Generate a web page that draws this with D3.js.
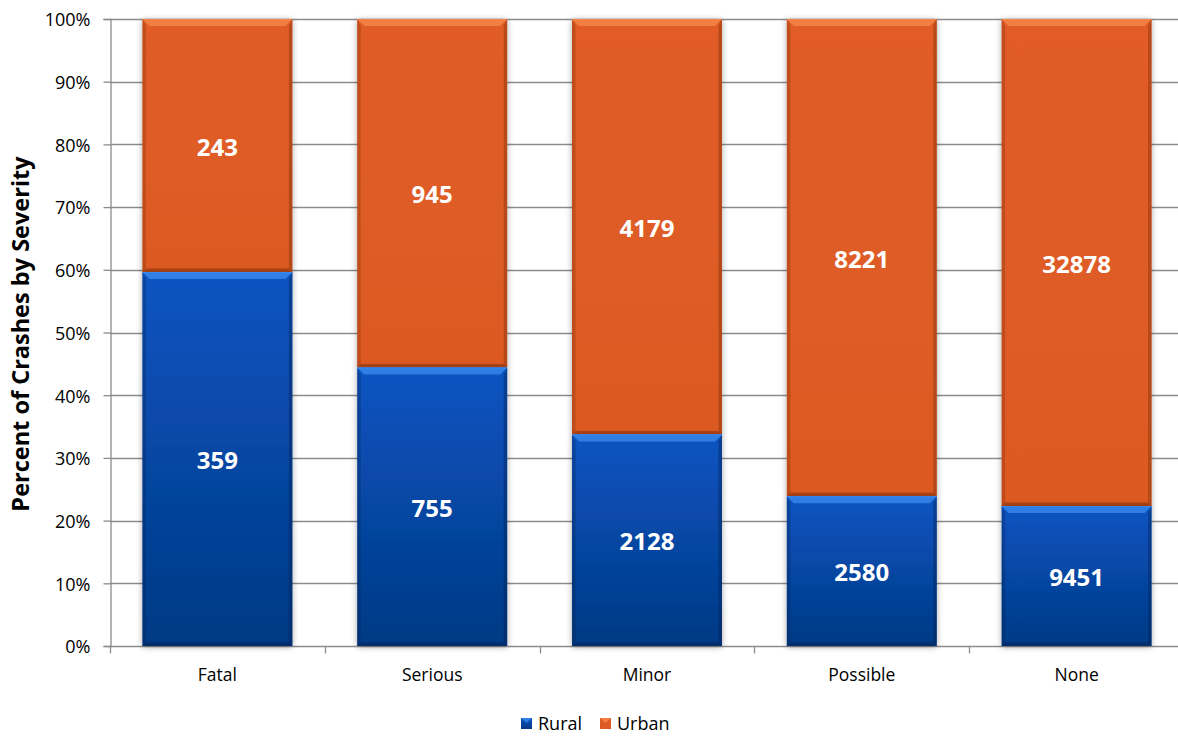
<!DOCTYPE html>
<html><head><meta charset="utf-8">
<script src="https://cdn.jsdelivr.net/npm/d3@7"></script>
<style>body{margin:0;background:#fff}svg{display:block}</style>
</head><body>
<svg id="c" width="1178" height="737"></svg>
<script>
const categories = ["Fatal","Serious","Minor","Possible","None"];
const rural = [359,755,2128,2580,9451];
const urban = [243,945,4179,8221,32878];
const yTicks = [0,0.1,0.2,0.3,0.4,0.5,0.6,0.7,0.8,0.9,1.0];
const seriesNames = ["Rural","Urban"];

const svg = d3.select("#c");
const font = "'Open Sans', sans-serif";
const L = 110, R = 1184, T = 19, B = 646;
const x = d3.scaleBand().domain(categories).range([L,R]).paddingInner(0.302).paddingOuter(0.151);
const y = d3.scaleLinear().domain([0,1]).range([B,T]);

const defs = svg.append("defs");
function grad(id, c1, c2){
  const g = defs.append("linearGradient").attr("id",id).attr("x1",0).attr("y1",0).attr("x2",0).attr("y2",1);
  g.append("stop").attr("offset","0%").attr("stop-color",c1);
  g.append("stop").attr("offset","100%").attr("stop-color",c2);
}
grad("gBlue","#0954c2","#043984");
grad("gOrange","#e15c26","#dc5a24");
const f = defs.append("filter").attr("id","sh").attr("x","-10%").attr("y","-10%").attr("width","120%").attr("height","120%");
f.append("feGaussianBlur").attr("in","SourceAlpha").attr("stdDeviation",3).attr("result","b");
f.append("feOffset").attr("in","b").attr("dx",0).attr("dy",1).attr("result","o");
f.append("feComponentTransfer").attr("in","o").attr("result","o2").append("feFuncA").attr("type","linear").attr("slope",0.35);
const fm = f.append("feMerge"); fm.append("feMergeNode").attr("in","o2"); fm.append("feMergeNode").attr("in","SourceGraphic");

// gridlines
svg.append("g").selectAll("line").data(yTicks.slice(1)).join("line")
  .attr("x1",L).attr("x2",1178).attr("y1",d=>Math.round(y(d))+0.5).attr("y2",d=>Math.round(y(d))+0.5)
  .attr("stroke","#8c8c8c").attr("stroke-width",1.3);

// axes
const yAxis = svg.append("g").attr("transform",`translate(${L+0.5},0)`)
  .call(d3.axisLeft(y).tickValues(yTicks).tickFormat(d3.format(".0%")).tickSize(7).tickPadding(13));
yAxis.select(".domain").attr("stroke","#8c8c8c").attr("stroke-width",1.3);
yAxis.selectAll(".tick line").attr("stroke","#8c8c8c").attr("stroke-width",1.3);
yAxis.selectAll("text").attr("font-family",font).attr("font-size",18).attr("fill","#000").attr("dy","0.38em");

const xAxisG = svg.append("g").attr("transform",`translate(0,${B+0.5})`);
xAxisG.append("line").attr("x1",L).attr("x2",1178).attr("stroke","#8c8c8c").attr("stroke-width",1.3);
const bounds = categories.map((c,i)=>x(c)-x.step()*x.paddingInner()/2);
xAxisG.selectAll(".tk").data(bounds).join("line").attr("class","tk")
  .attr("x1",d=>Math.round(d)+0.5).attr("x2",d=>Math.round(d)+0.5).attr("y1",0).attr("y2",7)
  .attr("stroke","#8c8c8c").attr("stroke-width",1.3);
xAxisG.selectAll("text").data(categories).join("text")
  .attr("x",d=>x(d)+x.bandwidth()/2).attr("y",28).attr("dy","0.36em").attr("text-anchor","middle")
  .attr("font-family",font).attr("font-size",17.5).attr("fill","#000").text(d=>d);

// bars
const data = categories.map((c,i)=>{const t=rural[i]+urban[i];return {c, r:rural[i], u:urban[i], rf:rural[i]/t};});
const bw = x.bandwidth();
function bevelBar(g, x0, y0, w, h, fill, light, dark){
  const b = 7;
  g.append("rect").attr("x",x0).attr("y",y0).attr("width",w).attr("height",h).attr("fill",fill).attr("filter","url(#sh)");
  g.append("polygon").attr("points",`${x0},${y0} ${x0+w},${y0} ${x0+w-b},${y0+b} ${x0+b},${y0+b}`).attr("fill",light).attr("opacity",0.8);
  g.append("polygon").attr("points",`${x0},${y0} ${x0+b*0.5},${y0+b} ${x0+b*0.5},${y0+h-b*0.5} ${x0},${y0+h}`).attr("fill",dark).attr("opacity",0.3);
  g.append("polygon").attr("points",`${x0+w},${y0} ${x0+w-b*0.5},${y0+b} ${x0+w-b*0.5},${y0+h-b*0.5} ${x0+w},${y0+h}`).attr("fill",dark).attr("opacity",0.4);
  g.append("polygon").attr("points",`${x0},${y0+h} ${x0+b*0.5},${y0+h-b*0.5} ${x0+w-b*0.5},${y0+h-b*0.5} ${x0+w},${y0+h}`).attr("fill",dark).attr("opacity",0.45);
  g.append("line").attr("x1",x0).attr("x2",x0+w).attr("y1",y0+0.5).attr("y2",y0+0.5).attr("stroke",light).attr("stroke-width",1);
}
const barsG = svg.append("g");
data.forEach(d=>{
  const x0 = x(d.c);
  const yMid = y(d.rf);
  bevelBar(barsG, x0, T, bw, yMid-T, "url(#gOrange)", "#f5874a", "#7a2c08");
  bevelBar(barsG, x0, yMid, bw, B-yMid, "url(#gBlue)", "#3a8aee", "#02204f");
});
// labels
const lab = svg.append("g").attr("font-family",font).attr("font-size",24).attr("font-weight","bold").attr("fill","#fff").attr("text-anchor","middle");
data.forEach(d=>{
  const cx = x(d.c)+bw/2, yMid=y(d.rf);
  lab.append("text").attr("x",cx).attr("y",(T+yMid)/2).attr("dy","0.42em").text(d.u);
  lab.append("text").attr("x",cx).attr("y",(yMid+B)/2).attr("dy","0.42em").text(d.r);
});

// y title
svg.append("text").attr("transform","translate(29,334) rotate(-90)").attr("text-anchor","middle")
  .attr("font-family",font).attr("font-size",23.5).attr("font-weight","bold").attr("fill","#000").text("Percent of Crashes by Severity");

// legend
const lg = svg.append("g");
const legItems = [{n:seriesNames[0],f:"url(#gBlue)",l:"#3a8aee",x:521},{n:seriesNames[1],f:"url(#gOrange)",l:"#f5874a",x:600}];
legItems.forEach(it=>{
  lg.append("rect").attr("x",it.x).attr("y",718).attr("width",11).attr("height",11).attr("fill",it.f);
  lg.append("polygon").attr("points",`${it.x},718 ${it.x+11},718 ${it.x+5.5},723`).attr("fill",it.l).attr("opacity",0.8);
  lg.append("text").attr("x",it.x+17).attr("y",723.5).attr("dy","0.36em").attr("font-family",font).attr("font-size",18).attr("fill","#000").text(it.n);
});
</script>
</body></html>
